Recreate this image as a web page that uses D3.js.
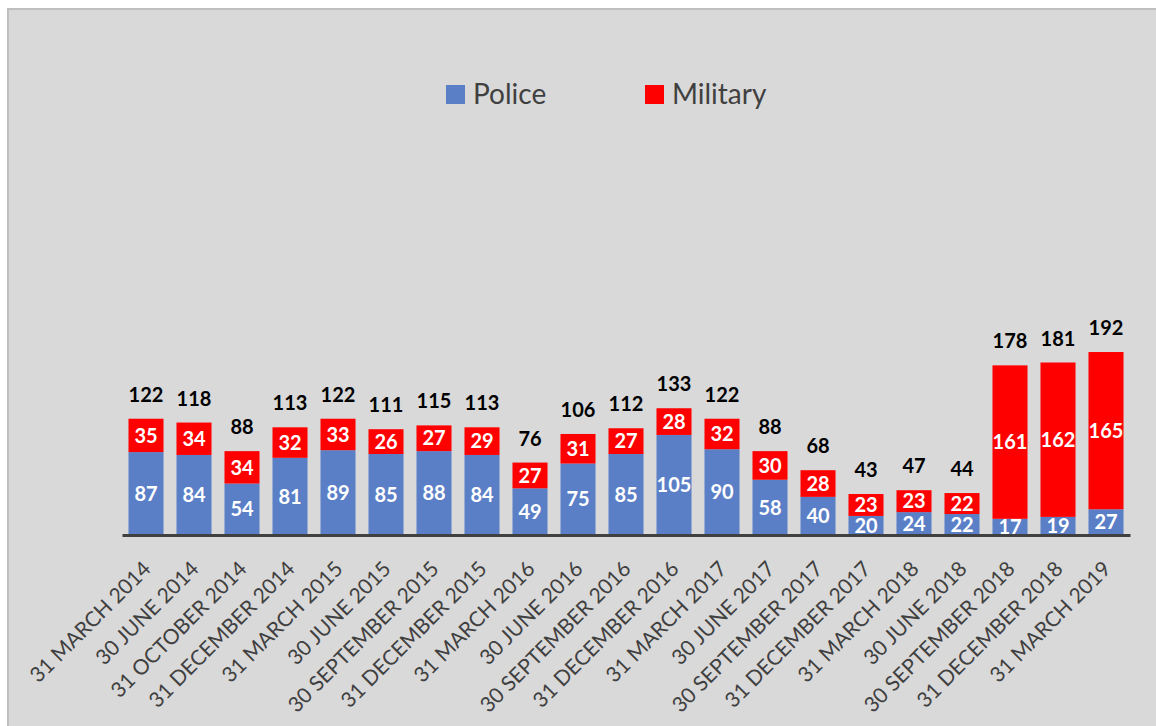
<!DOCTYPE html>
<html>
<head>
<meta charset="utf-8">
<script src="https://cdn.jsdelivr.net/npm/d3@7"></script>
<style>
  body { margin: 0; background: #fff; }
  svg text { font-family: Lato, "Open Sans", sans-serif; }
</style>
</head>
<body>
<div id="chart"></div>
<script>
// Chart data
let dates = ["31 MARCH 2014", "30 JUNE 2014", "31 OCTOBER 2014", "31 DECEMBER 2014",
    "31 MARCH 2015", "30 JUNE 2015", "30 SEPTEMBER 2015", "31 DECEMBER 2015",
    "31 MARCH 2016", "30 JUNE 2016", "30 SEPTEMBER 2016", "31 DECEMBER 2016",
    "31 MARCH 2017", "30 JUNE 2017", "30 SEPTEMBER 2017", "31 DECEMBER 2017",
    "31 MARCH 2018", "30 JUNE 2018", "30 SEPTEMBER 2018", "31 DECEMBER 2018",
    "31 MARCH 2019"];
let police = [87, 84, 54, 81, 89, 85, 88, 84, 49, 75, 85, 105, 90, 58, 40, 20, 24, 22, 17, 19, 27];
let military = [35, 34, 34, 32, 33, 26, 27, 29, 27, 31, 27, 28, 32, 30, 28, 23, 23, 22, 161, 162, 165];
let seriesNames = ["Police", "Military"];
let seriesColors = ["#5b7fc7", "#ff0000"];

let width = 1156, height = 726;
let baseline = 535;

let svg = d3.select("#chart")
    .append("svg")
    .attr("width", width)
    .attr("height", height);

// Chart area background and its border
svg.append("rect")
    .attr("x", 8).attr("y", 9)
    .attr("width", width + 10).attr("height", height + 10)
    .attr("fill", "#d9d9d9")
    .attr("stroke", "#bfbfbf")
    .attr("stroke-width", 2);

let x = d3.scaleBand()
    .domain(dates)
    .range([122, 1130])
    .paddingInner(0.27)
    .paddingOuter(0.135);

let y = d3.scaleLinear()
    .domain([0, 200])
    .range([baseline, baseline - 0.953 * 200]);

let rows = dates.map((d, i) => ({date: d, police: police[i], military: military[i]}));
let stacked = d3.stack().keys(["police", "military"])(rows);

let layers = svg.selectAll("g.layer")
    .data(stacked)
    .enter()
    .append("g")
    .attr("class", "layer")
    .attr("fill", (d, i) => seriesColors[i]);

layers.selectAll("rect")
    .data(d => d)
    .enter()
    .append("rect")
    .attr("x", d => x(d.data.date))
    .attr("y", d => y(d[1]))
    .attr("width", x.bandwidth())
    .attr("height", d => y(d[0]) - y(d[1]));

// Values inside each segment
layers.selectAll("text")
    .data(d => d)
    .enter()
    .append("text")
    .attr("x", d => x(d.data.date) + x.bandwidth() / 2)
    .attr("y", d => (y(d[0]) + y(d[1])) / 2)
    .attr("dy", "0.36em")
    .attr("text-anchor", "middle")
    .attr("fill", "#fff")
    .attr("font-size", 20)
    .attr("font-weight", "bold")
    .text(d => d[1] - d[0]);

// Totals above the bars
svg.selectAll("text.total")
    .data(rows)
    .enter()
    .append("text")
    .attr("class", "total")
    .attr("x", d => x(d.date) + x.bandwidth() / 2)
    .attr("y", d => y(d.police + d.military) - 17)
    .attr("text-anchor", "middle")
    .attr("fill", "#000")
    .attr("font-size", 20)
    .attr("font-weight", "bold")
    .text(d => d.police + d.military);

// Category axis
let xAxis = svg.append("g")
    .attr("transform", "translate(0," + baseline + ")")
    .call(d3.axisBottom(x).tickSize(0).tickSizeOuter(0));
xAxis.select(".domain")
    .attr("stroke", "#404040")
    .attr("stroke-width", 3);
xAxis.selectAll("text")
    .attr("font-size", 21)
    .attr("fill", "#404040")
    .attr("text-anchor", "end")
    .attr("x", 0)
    .attr("y", 0)
    .attr("dy", "0.35em")
    .attr("transform", "translate(1,30) rotate(-45)")
    .style("font-family", "Lato, 'Open Sans', sans-serif");

// Legend
let legendX = [446, 645];
let legend = svg.selectAll("g.legend")
    .data(seriesNames)
    .enter()
    .append("g")
    .attr("class", "legend")
    .attr("transform", (d, i) => "translate(" + legendX[i] + ",85)");
legend.append("rect")
    .attr("width", 19).attr("height", 19)
    .attr("fill", (d, i) => seriesColors[i]);
legend.append("text")
    .attr("x", 27)
    .attr("y", 19)
    .attr("font-size", 28)
    .attr("fill", "#404040")
    .text(d => d);
</script>
</body>
</html>
